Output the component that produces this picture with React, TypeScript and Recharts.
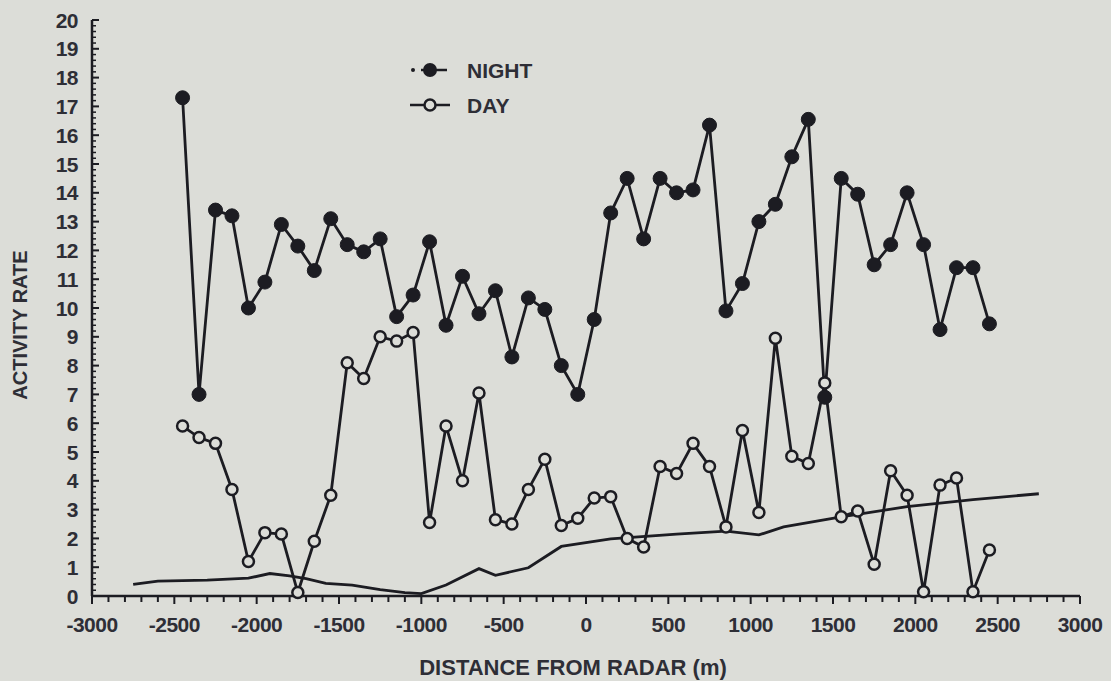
import React from "react";
import { LineChart, Line, XAxis, YAxis } from "recharts";

// Distances (m) of sampled points
const DIST = [
  -2450, -2350, -2250, -2150, -2050, -1950, -1850, -1750, -1650, -1550,
  -1450, -1350, -1250, -1150, -1050, -950, -850, -750, -650, -550,
  -450, -350, -250, -150, -50, 50, 150, 250, 350, 450,
  550, 650, 750, 850, 950, 1050, 1150, 1250, 1350, 1450,
  1550, 1650, 1750, 1850, 1950, 2050, 2150, 2250, 2350, 2450,
];

const NIGHT = [
  17.3, 7.0, 13.4, 13.2, 10.0, 10.9, 12.9, 12.15, 11.3, 13.1,
  12.2, 11.95, 12.4, 9.7, 10.45, 12.3, 9.4, 11.1, 9.8, 10.6,
  8.3, 10.35, 9.95, 8.0, 7.0, 9.6, 13.3, 14.5, 12.4, 14.5,
  14.0, 14.1, 16.35, 9.9, 10.85, 13.0, 13.6, 15.25, 16.55, 6.9,
  14.5, 13.95, 11.5, 12.2, 14.0, 12.2, 9.25, 11.4, 11.4, 9.45,
];

const DAY = [
  5.9, 5.5, 5.3, 3.7, 1.2, 2.2, 2.15, 0.12, 1.9, 3.5,
  8.1, 7.55, 9.0, 8.85, 9.15, 2.55, 5.9, 4.0, 7.05, 2.65,
  2.5, 3.7, 4.75, 2.45, 2.7, 3.4, 3.45, 2.0, 1.7, 4.5,
  4.25, 5.3, 4.5, 2.4, 5.75, 2.9, 8.95, 4.85, 4.6, 7.4,
  2.75, 2.95, 1.1, 4.35, 3.5, 0.15, 3.85, 4.1, 0.15, 1.6,
];

// Unmarked reference curve
const CURVE_X = [
  -2750, -2600, -2300, -2050, -1920, -1800, -1700, -1580, -1420, -1250,
  -1100, -1000, -850, -650, -550, -350, -150, 150, 550, 850,
  1050, 1200, 1550, 1950, 2350, 2750,
];
const CURVE_Y = [
  0.4, 0.52, 0.55, 0.62, 0.78, 0.7, 0.6, 0.44, 0.38, 0.22,
  0.12, 0.08, 0.38, 0.95, 0.72, 0.98, 1.72, 1.98, 2.15, 2.25,
  2.12, 2.4, 2.75, 3.1, 3.35, 3.55,
];

const X_MAJOR = [-3000, -2500, -2000, -1500, -1000, -500, 0, 500, 1000, 1500, 2000, 2500, 3000];
const Y_MAJOR = [0, 1, 2, 3, 4, 5, 6, 7, 8, 9, 10, 11, 12, 13, 14, 15, 16, 17, 18, 19, 20];
const X_MINOR_STEP = 100;
const Y_MINOR_PER_UNIT = 5;

const nightData = DIST.map((x, i) => ({ x, y: NIGHT[i] }));
const dayData = DIST.map((x, i) => ({ x, y: DAY[i] }));
const curveData = CURVE_X.map((x, i) => ({ x, y: CURVE_Y[i] }));

const xTicks: number[] = [];
for (let v = X_MAJOR[0]; v <= X_MAJOR[X_MAJOR.length - 1]; v += X_MINOR_STEP) xTicks.push(v);
const yTicks: number[] = [];
for (let k = 0; k <= Y_MAJOR[Y_MAJOR.length - 1] * Y_MINOR_PER_UNIT; k++) yTicks.push(k / Y_MINOR_PER_UNIT);

const BG = "#dcddd8";
const INK = "#1c1c22";
const TXT = "#2e2e36";
const FONT = "'Liberation Sans', Arial, sans-serif";

const XTick = (props: any) => {
  const { x, y, payload } = props;
  const v = payload.value;
  const major = X_MAJOR.includes(v);
  return (
    <g>
      <line x1={x} y1={y} x2={x} y2={y + (major ? 8 : 6)} stroke={INK} strokeWidth={2} />
      {major && (
        <text x={x} y={y + 36} textAnchor="middle" fontSize={21} fontWeight="bold" fill={TXT} fontFamily={FONT} letterSpacing={-0.5}>
          {v}
        </text>
      )}
    </g>
  );
};

const YTick = (props: any) => {
  const { x, y, payload } = props;
  const v = payload.value;
  const major = Math.abs(v - Math.round(v)) < 1e-6;
  return (
    <g>
      <line x1={x} y1={y} x2={x + (major ? 7 : 4)} y2={y} stroke={INK} strokeWidth={major ? 2 : 1.5} />
      {major && (
        <text x={x - 14} y={y} dy="0.36em" textAnchor="end" fontSize={21} fontWeight="bold" fill={TXT} fontFamily={FONT} letterSpacing={-0.5}>
          {Math.round(v)}
        </text>
      )}
    </g>
  );
};

export default function App() {
  return (
    <div style={{ position: "fixed", left: 0, top: 0, width: 1111, height: 681, background: BG, overflow: "hidden" }}>
      <LineChart
        width={1111}
        height={681}
        margin={{ top: 20, right: 31, bottom: 45, left: 12 }}
      >
        <XAxis
          dataKey="x"
          type="number"
          domain={[-3000, 3000]}
          ticks={xTicks}
          interval={0}
          tickSize={0}
          tickMargin={0}
          tickLine={false}
          tick={<XTick />}
          height={40}
          axisLine={{ stroke: INK, strokeWidth: 2.5 }}
          allowDecimals
        />
        <YAxis
          type="number"
          domain={[0, 20]}
          ticks={yTicks}
          interval={0}
          tickSize={0}
          tickMargin={0}
          tickLine={false}
          tick={<YTick />}
          width={80}
          axisLine={{ stroke: INK, strokeWidth: 2.5 }}
        />
        <Line
          data={curveData}
          dataKey="y"
          type="linear"
          stroke={INK}
          strokeWidth={2.8}
          dot={false}
          isAnimationActive={false}
        />
        <Line
          data={nightData}
          dataKey="y"
          type="linear"
          stroke={INK}
          strokeWidth={2.8}
          dot={{ r: 7, fill: INK, stroke: INK, strokeWidth: 1 }}
          isAnimationActive={false}
        />
        <Line
          data={dayData}
          dataKey="y"
          type="linear"
          stroke={INK}
          strokeWidth={2.8}
          dot={{ r: 5.5, fill: BG, stroke: INK, strokeWidth: 2.5 }}
          isAnimationActive={false}
        />
      </LineChart>
      <svg width={1111} height={681} style={{ position: "absolute", left: 0, top: 0, pointerEvents: "none" }}>
        {/* Legend */}
        <circle cx={413} cy={70} r={2} fill={INK} />
        <line x1={421} y1={70} x2={447} y2={70} stroke={INK} strokeWidth={2.5} />
        <circle cx={430} cy={70} r={7} fill={INK} />
        <text x={467} y={70} dy="0.36em" fontSize={21} fontWeight="bold" fill={TXT} fontFamily={FONT}>NIGHT</text>
        <line x1={410} y1={105} x2={450} y2={105} stroke={INK} strokeWidth={2.5} />
        <circle cx={430} cy={105} r={5.5} fill={BG} stroke={INK} strokeWidth={2.5} />
        <text x={467} y={105} dy="0.36em" fontSize={21} fontWeight="bold" fill={TXT} fontFamily={FONT}>DAY</text>
        {/* Axis titles */}
        <text
          x={20}
          y={325}
          transform="rotate(-90 20 325)"
          textAnchor="middle"
          dy="0.36em"
          fontSize={20}
          fontWeight="bold"
          fill={TXT}
          fontFamily={FONT}
        >
          ACTIVITY RATE
        </text>
        <text x={573} y={675} textAnchor="middle" fontSize={22} fontWeight="bold" fill={TXT} fontFamily={FONT}>
          DISTANCE FROM RADAR (m)
        </text>
      </svg>
    </div>
  );
}
